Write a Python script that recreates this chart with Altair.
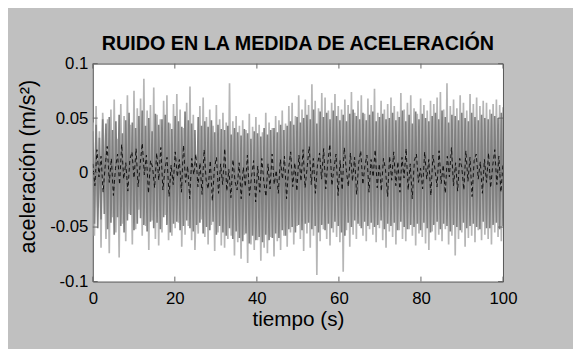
import altair as alt
import pandas as pd

title_text = "RUIDO EN LA MEDIDA DE ACELERACIÓN"
x_title = "tiempo (s)"
y_title = "aceleración (m/s²)"
x_ticks = [0, 20, 40, 60, 80, 100]
y_ticks = [-0.1, -0.05, 0, 0.05, 0.1]

# measured signal (light grey)
light = [
    .046, -.058, .061, -.032, .038, -.069, .055, .012, -.061, .049,
    -.074, .058, -.041, .067, -.055, .031, -.078, .063, -.047, .052,
    -.063, .071, -.038, .044, -.066, .075, -.052, .059, -.034, .068,
    -.058, .086, -.049, .057, -.071, .062, -.044, .078, -.061, .053,
    -.067, .049, -.055, .066, -.039, .071, -.062, .045, -.058, .063,
    -.051, .072, -.046, .058, -.068, .041, -.057, .064, -.049, .079,
    -.062, .053, -.071, -.012, -.056, .061, -.043, .069, -.059, .051,
    -.066, .058, -.048, .043, -.072, .062, -.055, .049, -.067, .055,
    -.069, .046, -.061, .082, -.058, .047, -.076, .052, -.064, .043,
    -.079, .048, -.057, .039, -.083, .054, -.066, .042, -.071, .051,
    -.062, .044, -.081, .037, -.069, .055, -.074, .046, -.059, .041,
    -.077, .052, -.063, .048, -.071, .057, -.058, .045, -.068, .061,
    -.055, .064, -.066, .052, -.049, .071, -.061, .058, -.072, .067,
    -.056, .062, -.069, .081, -.058, .066, -.094, .059, -.063, .073,
    -.052, .069, -.061, .057, -.067, .064, -.055, .072, -.059, .061,
    -.064, .058, -.091, .067, -.053, .062, -.068, .074, -.057, .055,
    -.061, .066, -.049, .071, -.058, .054, -.063, .068, -.052, .062,
    -.057, .077, -.064, .055, -.051, .066, -.062, .058, -.069, .063,
    -.054, .069, -.059, .061, -.066, .056, -.053, .073, -.061, .058,
    -.063, .064, -.052, .071, -.058, .059, -.067, .054, -.056, .068,
    -.059, .062, -.065, .057, -.071, .066, -.054, .063, -.062, .069,
    -.057, .074, -.063, .058, -.052, .082, -.066, .061, -.058, .067,
    -.076, .059, -.061, .071, -.055, .064, -.068, .057, -.060, .072,
    -.058, .063, -.064, .069, -.053, .061, -.062, .066, -.057, .064,
    -.061, .058, -.066, .063, -.055, .067, -.059, .062, -.063, .060,
]

# first filtered signal (mid grey)
medium = [
    .038, -.047, .044, -.051, .032, -.043, .049, -.038, .045, -.052,
    .051, -.046, .039, -.057, .047, -.041, .053, -.049, .036, -.055,
    .048, -.044, .055, -.039, .046, -.053, .041, -.047, .052, -.042,
    .057, -.048, .043, -.054, .050, -.045, .038, -.051, .054, -.046,
    .044, -.052, .049, -.041, .053, -.048, .046, -.055, .040, -.047,
    .052, -.045, .047, -.053, .042, -.049, .056, -.044, .048, -.051,
    .045, -.054, .039, -.048, .051, -.046, .043, -.056, .047, -.050,
    .042, -.053, .048, -.045, .037, -.057, .044, -.049, .040, -.055,
    .039, -.058, .043, -.051, .035, -.061, .041, -.054, .037, -.060,
    .034, -.063, .040, -.056, .036, -.065, .031, -.058, .038, -.062,
    .036, -.059, .033, -.064, .041, -.057, .035, -.062, .039, -.060,
    .041, -.056, .037, -.060, .044, -.053, .039, -.058, .043, -.052,
    .047, -.050, .044, -.055, .051, -.048, .046, -.053, .050, -.047,
    .053, -.046, .049, -.052, .058, -.049, .045, -.055, .056, -.048,
    .051, -.053, .055, -.047, .049, -.051, .057, -.045, .052, -.049,
    .048, -.055, .053, -.058, .047, -.046, .054, -.050, .058, -.044,
    .052, -.047, .049, -.051, .055, -.045, .048, -.049, .053, -.046,
    .056, -.050, .047, -.048, .051, -.044, .054, -.052, .049, -.047,
    .050, -.049, .055, -.046, .048, -.053, .051, -.045, .057, -.050,
    .047, -.052, .053, -.048, .045, -.050, .056, -.047, .049, -.053,
    .054, -.046, .050, -.051, .047, -.055, .052, -.048, .055, -.045,
    .049, -.052, .057, -.047, .051, -.049, .046, -.054, .053, -.048,
    .052, -.050, .048, -.053, .055, -.046, .050, -.051, .047, -.049,
    .055, -.047, .051, -.050, .048, -.052, .053, -.045, .050, -.051,
    .049, -.051, .054, -.048, .052, -.046, .050, -.052, .055, -.049,
]

# second filtered signal (black)
black = [
    .008, -.012, .021, -.004, .015, -.018, .006, .024, -.009, .013,
    -.021, .004, .017, -.011, .026, -.006, .009, -.017, .012, .019,
    -.005, .022, -.013, .008, .027, -.002, .016, -.019, .011, .005,
    -.014, .018, -.007, .023, -.016, .003, .014, -.022, .007, -.011,
    .019, -.004, .012, -.018, .025, -.009, .006, -.024, .013, -.002,
    .017, -.013, .009, -.020, .021, -.007, -.015, .011, -.026, .004,
    .014, -.019, .008, -.011, .022, -.017, .003, -.023, .012, -.008,
    -.016, .009, -.024, .005, -.013, .016, -.021, -.004, .011, -.027,
    .006, -.018, .013, -.009, -.022, .008, -.015, .017, -.011, .002,
    -.019, .012, -.006, .015, -.024, .004, .019, -.013, .009, -.017,
    .016, -.008, .021, -.014, .005, .024, -.011, .013, -.019, .007,
    .018, -.006, .022, -.015, .009, .026, -.012, .004, .017, -.021,
    .011, -.016, .023, .002, -.013, .018, -.008, .014, -.020, .009,
    .020, -.011, .006, .016, -.018, .012, -.004, .021, -.014, .008,
    -.017, .013, .003, -.022, .015, -.007, .019, -.012, .010, -.018,
    .014, -.005, .022, -.016, .008, -.024, .011, .017, -.009, .004,
    -.015, .019, -.006, .012, -.021, .016, .003, -.013, .020, -.010,
    .007, -.019, .015, -.004, .023, -.012, .009, -.017, .013, .005,
    -.016, .020, -.008, .014, -.022, .011, .017, -.006, .010, -.019,
    .012, -.009, .018, -.014, .006, .021, -.011, .015, -.018, .008,
]


def frame(vals):
    n = len(vals)
    return pd.DataFrame({"t": [i * 100 / (n - 1) for i in range(n)], "a": vals})


FONT = "Liberation Sans"
xs = alt.Scale(domain=[0, 100], nice=False, zero=False)
ys = alt.Scale(domain=[-0.1, 0.1], nice=False, zero=False)

x_axis = alt.Axis(values=x_ticks, title=x_title, ticks=False, domain=False, grid=False,
                  labelFlush=False, labelOverlap=False, labelBound=False,
                  labelPadding=9, titlePadding=3, titleFontSize=21)
y_axis = alt.Axis(values=y_ticks, title=y_title, ticks=False, domain=False, grid=False,
                  labelFlush=False, labelOverlap=False, labelBound=False,
                  labelPadding=5, titlePadding=10, titleY=104,
                  labelExpr="'' + datum.value")


def line(vals, color, width, dash=None):
    kw = dict(color=color, strokeWidth=width, clip=True, strokeJoin="miter")
    if dash:
        kw["strokeDash"] = dash
    return alt.Chart(frame(vals)).mark_line(**kw).encode(
        x=alt.X("t:Q", scale=xs, axis=x_axis),
        y=alt.Y("a:Q", scale=ys, axis=y_axis),
    )


tick_len = 5
xt = pd.DataFrame({"v": x_ticks})
yt = pd.DataFrame({"v": y_ticks})
tick_color = "#666666"
bottom_ticks = alt.Chart(xt).mark_rule(color=tick_color, strokeWidth=1).encode(
    x=alt.X("v:Q", scale=xs), y=alt.value(221), y2=alt.value(221 - tick_len))
top_ticks = alt.Chart(xt).mark_rule(color=tick_color, strokeWidth=1).encode(
    x=alt.X("v:Q", scale=xs), y=alt.value(0), y2=alt.value(tick_len))
left_ticks = alt.Chart(yt).mark_rule(color=tick_color, strokeWidth=1).encode(
    y=alt.Y("v:Q", scale=ys), x=alt.value(0), x2=alt.value(tick_len))
right_ticks = alt.Chart(yt).mark_rule(color=tick_color, strokeWidth=1).encode(
    y=alt.Y("v:Q", scale=ys), x=alt.value(416), x2=alt.value(416 - tick_len))

chart = alt.layer(
    line(light, "#b6b6b6", 1.7),
    line(medium, "#808080", 1.7),
    line(black, "#111111", 1, [4, 3]),
    bottom_ticks, top_ticks, left_ticks, right_ticks,
).properties(
    width=416,
    height=221,
    autosize=alt.AutoSizeParams(type="none"),
    padding={"left": 86, "top": 54, "right": 71, "bottom": 66},
    background="#c0c0c0",
    title=alt.TitleParams(title_text, font=FONT, fontSize=20, fontWeight="bold",
                          color="#000000", anchor="middle", offset=1),
).configure_view(
    fill="#ffffff", stroke="#555555", strokeWidth=1,
).configure_axis(
    labelFont=FONT, labelFontSize=17, labelColor="#000000",
    titleFont=FONT, titleFontSize=22, titleColor="#000000", titleFontWeight="normal",
)

chart.save("out.html", embed_options={"renderer": "svg", "actions": False})
